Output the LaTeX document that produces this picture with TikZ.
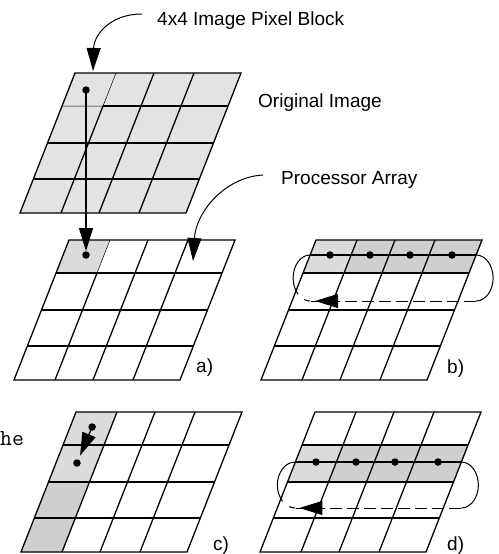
\documentclass[tikz,border=0pt]{standalone}
\usepackage{fontspec}
\setmainfont{Liberation Sans}
\usetikzlibrary{arrows.meta,calc}

\begin{document}
\begin{tikzpicture}[x=1pt,y=-1pt,
  gridline/.style={line width=1.3pt},
  thinline/.style={line width=0.5pt},
  loopline/.style={line width=1pt},
  dashline/.style={line width=1pt,dash pattern=on 12pt off 5pt},
  dot/.style={circle,fill=black,inner sep=0pt,minimum size=7.5pt},
  bigtip/.style={-{Triangle[length=23pt,width=14pt]}},
  callout/.style={line width=1pt,bigtip},
  lbl/.style={font=\fontsize{19}{22}\selectfont,inner sep=0pt,anchor=base west},
  slant/.style={xslant=0.3929},
  pixfill/.style={fill=black!11},
  lightcell/.style={fill=black!14},
  darkcell/.style={fill=black!19}
]
\useasboundingbox (0,0) rectangle (498,554);

% ---- original image (4x4 pixel blocks) ----
\begin{scope}[shift={(75,73)},slant]
  \fill[pixfill] (0,0) rectangle (166,140);
  \draw[thinline] (41,0) -- (41,33) (0,33) -- (41,33);
  \draw[gridline] (41,33) -- (41,140) (79,0) -- (79,140) (119,0) -- (119,140);
  \draw[gridline] (41,33) -- (166,33) (0,70) -- (166,70) (0,106) -- (166,106);
  \draw[gridline] (0,0) rectangle (166,140);
\end{scope}

% ---- a) processor array ----
\begin{scope}[shift={(69,240)},slant]
  \fill[lightcell] (0,0) rectangle (41,33);
  \draw[thinline] (41,0) -- (41,33);
  \draw[gridline] (41,33) -- (41,140) (79,0) -- (79,140) (119,0) -- (119,140);
  \draw[gridline] (0,33) -- (166,33) (0,70) -- (166,70) (0,106) -- (166,106);
  \draw[gridline] (0,0) rectangle (166,140);
\end{scope}

% ---- b) row broadcast ----
\begin{scope}[shift={(316,240)},slant]
  \fill[lightcell] (0,0) rectangle (41,33);
  \fill[darkcell] (41,0) rectangle (166,33);
  \foreach \c in {41,79,119} \draw[gridline] (\c,0) -- (\c,140);
  \foreach \r in {33,70,106} \draw[gridline] (0,\r) -- (166,\r);
  \draw[gridline] (0,0) rectangle (166,140);
  \coordinate (bL) at (0,15);
  \coordinate (bR) at (166,15);
\end{scope}

% ---- c) column shift ----
\begin{scope}[shift={(76,412)},slant]
  \fill[lightcell] (0,0) rectangle (41,70);
  \fill[darkcell] (0,70) rectangle (41,140);
  \foreach \c in {41,79,119} \draw[gridline] (\c,0) -- (\c,140);
  \foreach \r in {33,70,106} \draw[gridline] (0,\r) -- (166,\r);
  \draw[gridline] (0,0) rectangle (166,140);
  \node[dot] (c1) at (22,15) {};
  \node[dot] (c2) at (21,51) {};
\end{scope}

% ---- d) second row broadcast ----
\begin{scope}[shift={(315,412)},slant]
  \fill[lightcell] (0,33) rectangle (41,70);
  \fill[darkcell] (41,33) rectangle (166,70);
  \foreach \c in {41,79,119} \draw[gridline] (\c,0) -- (\c,140);
  \foreach \r in {33,70,106} \draw[gridline] (0,\r) -- (166,\r);
  \draw[gridline] (0,0) rectangle (166,140);
  \coordinate (dL) at (0,50);
  \coordinate (dR) at (166,50);
\end{scope}

% ---- pixel block mapped onto the first processor ----
\node[dot] (srcpx) at (86,90) {};
\node[dot] (dstpx) at (86,255) {};
\draw[gridline,bigtip] (srcpx.center) -- (dstpx.north);

% ---- callout labels ----
\node[lbl] (lblblock) at (157,25) {4x4 Image Pixel Block};
\node[lbl] (lblorig) at (258,107) {Original Image};
\node[lbl] (lblarray) at (281,184) {Processor Array};
\coordinate (blockfrom) at (142,14);
\coordinate (blocktip) at (93,71);
\draw[callout] (blockfrom) .. controls (110,14) and (94,35) .. (blocktip);
\coordinate (arrayfrom) at (263,175);
\coordinate (arraytip) at (193,261);
\draw[callout] (arrayfrom) .. controls (225,177) and (196,212) .. (arraytip);

% ---- b) loop through the first row ----
\draw[gridline] (bL) -- (bR);
\foreach \i/\c in {1/330,2/370,3/410,4/452} \node[dot] (b\i) at (\c,255) {};
\draw[loopline] (bR) arc[start angle=90,end angle=-90,x radius=17pt,y radius=23pt] coordinate (bRd);
\coordinate (bLd) at (bL |- bRd);
\draw[dashline] (bRd) -- (bLd);
\draw[loopline] (bL) arc[start angle=90,end angle=225,x radius=17pt,y radius=23pt];
\draw[loopline] (bLd) arc[start angle=270,end angle=250,x radius=17pt,y radius=23pt];
\coordinate (bTip) at ($(bLd)+(5,0)$);
\coordinate (bTail) at ($(bTip)+(24,0)$);
\draw[loopline,bigtip] (bTail) -- (bTip);

% ---- c) shift down the column ----
\draw[gridline,bigtip,shorten >=4pt] (c1.center) -- (c2);

% ---- d) loop through the second row ----
\draw[gridline] (dL) -- (dR);
\foreach \i/\c in {1/316,2/356,3/395,4/438} \node[dot] (d\i) at (\c,462) {};
\draw[loopline] (dR) arc[start angle=90,end angle=-90,x radius=17pt,y radius=23pt] coordinate (dRd);
\coordinate (dLd) at (dL |- dRd);
\draw[dashline] (dRd) -- (dLd);
\draw[loopline] (dL) arc[start angle=90,end angle=225,x radius=18pt,y radius=23pt];
\draw[loopline] (dLd) arc[start angle=270,end angle=250,x radius=18pt,y radius=23pt];
\coordinate (dTip) at ($(dLd)+(4,0)$);
\coordinate (dTail) at ($(dTip)+(24,0)$);
\draw[loopline,bigtip] (dTail) -- (dTip);

% ---- panel labels ----
\node[lbl] (pa) at (196,372) {a)};
\node[lbl] (pb) at (447,373) {b)};
\node[lbl] (pc) at (213,550) {c)};
\node[lbl] (pd) at (447,550) {d)};

% ---- text fragment at the left margin ----
\node[font=\ttfamily\fontsize{23}{26}\selectfont,inner sep=0pt,anchor=base west] (cuttext) at (0,445) {he};
\end{tikzpicture}
\end{document}
